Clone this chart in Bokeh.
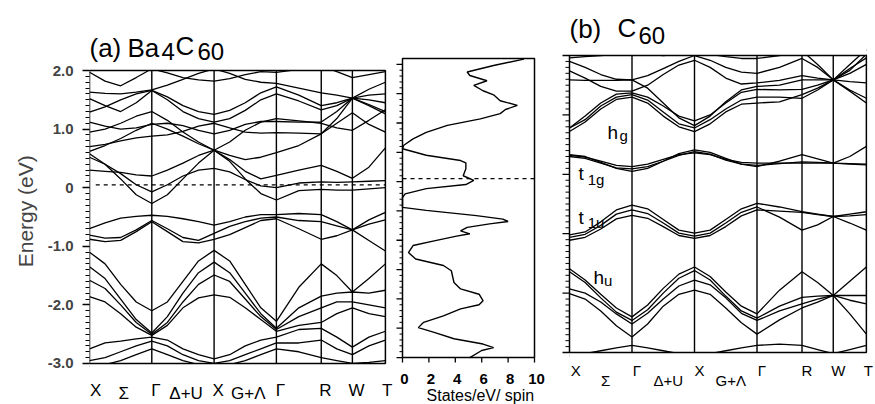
from bokeh.plotting import figure
from bokeh.layouts import row
from bokeh.models import FixedTicker, Label
from bokeh.embed import file_html
from bokeh.resources import INLINE

FONT = "Liberation Sans"

# ---------------- data ----------------
K_GRID = [0, 0.25, 0.5, 0.75, 1, 1.25, 1.5, 1.75, 2, 2.25, 2.5, 2.75, 3, 3.36, 3.72, 3.97, 4.22, 4.485, 4.75]
K_POINTS = [0, 1, 2, 3, 3.72, 4.22, 4.75]
K_POINT_LABELS = ["X", "Γ", "X", "Γ", "R", "W", "T"]
K_SEG_LABELS = ["Σ", "Δ+U", "G+Λ"]

ENERGY_TICKS = [-3, -2, -1, 0, 1, 2]
ENERGY_TICK_LABELS = ["-3.0", "-2.0", "-1.0", "0", "1.0", "2.0"]
DOS_TICKS = [0, 2, 4, 6, 8, 10]
DOS_TICK_LABELS = ["0", "2", "4", "6", "8", "10"]
DOS_E_TICKS = [-3, -2.5, -2, -1.5, -1, -0.5, 0, 0.5, 1, 1.5, 2]
DOS_E_RANGE = (-3.0, 2.1)
E_FERMI = 0.05

# Ba4C60 bands (eV) at K_GRID
BANDS_BA4C60 = [
    [1.97, 1.82, 1.74, 1.88, 2.03, 1.96, 1.88, 1.84, 1.82, 1.86, 1.93, 1.98, 1.97, 2.02, 2.08, 1.98, 1.88, 1.93, 1.98],
    [1.63, 1.61, 1.60, 1.63, 1.67, 1.75, 1.85, 1.95, 2.03, 1.95, 1.85, 1.80, 1.78, 1.70, 1.62, 1.58, 1.53, 1.68, 1.80],
    [1.52, 1.40, 1.30, 1.45, 1.66, 1.55, 1.40, 1.30, 1.25, 1.32, 1.45, 1.62, 1.72, 1.58, 1.40, 1.45, 1.53, 1.58, 1.60],
    [1.29, 1.38, 1.50, 1.60, 1.66, 1.50, 1.30, 1.18, 1.12, 1.18, 1.32, 1.50, 1.60, 1.48, 1.33, 1.40, 1.53, 1.50, 1.45],
    [1.12, 1.05, 1.00, 1.02, 1.08, 1.10, 1.06, 0.98, 0.92, 0.98, 1.08, 1.13, 1.13, 1.12, 1.12, 1.30, 1.53, 1.42, 1.30],
    [0.95, 1.00, 1.10, 1.22, 1.30, 1.15, 0.95, 0.78, 0.64, 0.78, 0.98, 1.12, 1.18, 1.14, 1.10, 1.02, 0.98, 1.15, 1.33],
    [0.70, 0.74, 0.80, 0.85, 0.88, 0.90, 0.96, 1.05, 1.10, 1.02, 0.95, 0.93, 0.94, 0.93, 0.92, 1.18, 1.53, 1.40, 1.26],
    [0.62, 0.72, 0.84, 0.98, 1.10, 1.00, 0.88, 0.75, 0.64, 0.55, 0.48, 0.52, 0.60, 0.72, 0.92, 1.10, 1.28, 1.08, 0.95],
    [0.58, 0.40, 0.15, -0.12, -0.27, -0.12, 0.15, 0.42, 0.64, 0.45, 0.15, -0.10, -0.21, -0.05, -0.03, -0.04, -0.04, -0.02, 0.00],
    [0.52, 0.40, 0.24, 0.05, -0.07, 0.05, 0.20, 0.30, 0.33, 0.27, 0.14, 0.03, 0.00, 0.08, 0.10, 0.09, 0.10, 0.11, 0.12],
    [0.30, 0.28, 0.26, 0.22, 0.20, 0.30, 0.42, 0.55, 0.64, 0.48, 0.28, 0.15, 0.21, 0.30, 0.38, 0.28, 0.16, 0.35, 0.68],
    [-0.70, -0.60, -0.52, -0.49, -0.47, -0.49, -0.53, -0.58, -0.64, -0.58, -0.50, -0.46, -0.46, -0.44, -0.46, -0.58, -0.72, -0.55, -0.42],
    [-0.81, -0.86, -0.85, -0.72, -0.56, -0.70, -0.85, -0.90, -0.78, -0.66, -0.58, -0.52, -0.50, -0.56, -0.58, -0.65, -0.72, -0.90, -1.08],
    [-0.88, -0.92, -0.90, -0.75, -0.58, -0.75, -0.92, -0.94, -0.88, -0.80, -0.68, -0.56, -0.53, -0.70, -0.88, -0.82, -0.72, -0.62, -0.55],
    [-1.10, -1.30, -1.65, -1.95, -2.10, -1.95, -1.60, -1.25, -1.07, -1.25, -1.65, -2.05, -2.28, -1.70, -1.30, -1.50, -1.78, -1.55, -1.30],
    [-1.35, -1.55, -1.90, -2.25, -2.48, -2.20, -1.80, -1.45, -1.27, -1.45, -1.80, -2.15, -2.40, -2.05, -1.85, -1.80, -1.78, -1.80, -1.75],
    [-1.58, -1.72, -2.00, -2.30, -2.50, -2.30, -1.95, -1.65, -1.49, -1.60, -1.90, -2.20, -2.42, -2.20, -2.05, -1.95, -1.95, -2.00, -2.05],
    [-1.86, -1.95, -2.15, -2.38, -2.52, -2.35, -2.05, -1.88, -1.83, -1.87, -2.05, -2.25, -2.45, -2.35, -2.30, -2.15, -2.05, -2.15, -2.20],
    [-2.75, -2.65, -2.62, -2.58, -2.55, -2.60, -2.75, -2.85, -2.92, -2.85, -2.70, -2.60, -2.55, -2.42, -2.40, -2.55, -2.72, -2.55, -2.45],
    [-2.95, -2.90, -2.80, -2.70, -2.62, -2.70, -2.85, -2.95, -3.00, -2.95, -2.85, -2.75, -2.65, -2.65, -2.60, -2.75, -2.85, -2.70, -2.60],
    [-3.05, -3.02, -2.95, -2.85, -2.75, -2.85, -2.95, -3.02, -3.05, -3.02, -2.95, -2.85, -2.75, -2.80, -2.90, -2.95, -3.00, -2.98, -2.95],
]

# Ba4C60 density of states
DOS_ENERGY = [2.09, 1.98, 1.87, 1.81, 1.72, 1.64, 1.55, 1.48, 1.38, 1.30, 1.23, 1.16, 1.07, 0.96, 0.84, 0.73,
              0.62, 0.56, 0.45, 0.36, 0.32, 0.22, 0.10, 0.02, -0.05, -0.12, -0.21, -0.27, -0.44, -0.49, -0.58,
              -0.64, -0.68, -0.72, -0.78, -0.84, -0.89, -0.93, -1.01, -1.09, -1.21, -1.32, -1.43, -1.52, -1.72,
              -1.83, -1.92, -2.03, -2.10, -2.17, -2.29, -2.40, -2.49, -2.57, -2.68, -2.77, -2.83, -2.88, -3.0]
DOS_STATES = [9.2, 6.9, 4.9, 5.1, 6.4, 5.4, 6.1, 6.9, 7.4, 8.7, 7.8, 7.4, 5.9, 3.4, 1.8, 0.8,
              0.1, 0.0, 1.8, 4.4, 4.8, 4.8, 4.6, 5.4, 4.8, 1.8, 0.2, 0.0, 0.0, 1.8, 5.6,
              7.6, 8.0, 6.6, 4.9, 4.4, 5.1, 4.1, 2.4, 0.8, 0.45, 1.0, 3.1, 3.7, 3.9,
              4.4, 5.8, 6.1, 5.8, 4.4, 3.1, 1.6, 1.2, 2.4, 3.9, 6.1, 6.9, 6.0, 5.1]

# C60 bands (eV) at K_GRID
BANDS_C60 = [
    # hg and above
    [0.78, 0.92, 1.15, 1.30, 1.34, 1.25, 1.05, 0.85, 0.78, 0.92, 1.10, 1.25, 1.30, 1.30, 1.28, 1.42, 1.59, 1.42, 1.28],
    [0.72, 0.88, 1.10, 1.26, 1.30, 1.20, 0.98, 0.80, 0.72, 0.85, 1.05, 1.18, 1.20, 1.22, 1.34, 1.45, 1.59, 1.40, 1.20],
    [0.78, 0.98, 1.20, 1.35, 1.37, 1.30, 1.15, 0.98, 0.90, 1.00, 1.20, 1.38, 1.43, 1.42, 1.43, 1.50, 1.59, 1.56, 1.54],
    [1.59, 1.58, 1.58, 1.58, 1.59, 1.45, 1.20, 0.95, 0.82, 0.98, 1.22, 1.42, 1.48, 1.50, 1.59, 1.59, 1.59, 1.70, 1.85],
    [1.74, 1.62, 1.48, 1.40, 1.40, 1.50, 1.68, 1.84, 1.92, 1.80, 1.62, 1.52, 1.54, 1.58, 1.66, 1.62, 1.59, 1.78, 1.96],
    [1.90, 1.80, 1.68, 1.60, 1.59, 1.66, 1.78, 1.90, 2.00, 1.92, 1.80, 1.72, 1.70, 1.80, 1.95, 1.80, 1.59, 1.75, 2.02],
    [1.96, 1.98, 2.00, 2.02, 2.03, 2.02, 2.00, 2.02, 2.05, 2.02, 1.98, 1.95, 1.95, 2.00, 2.08, 1.85, 1.59, 1.85, 2.10],
    # t1g
    [0.33, 0.30, 0.20, 0.10, 0.05, 0.10, 0.22, 0.35, 0.41, 0.37, 0.27, 0.17, 0.13, 0.22, 0.33, 0.26, 0.19, 0.30, 0.47],
    [0.30, 0.27, 0.19, 0.11, 0.09, 0.13, 0.22, 0.32, 0.38, 0.34, 0.24, 0.17, 0.15, 0.18, 0.21, 0.20, 0.19, 0.18, 0.17],
    [0.32, 0.29, 0.22, 0.15, 0.13, 0.17, 0.25, 0.33, 0.36, 0.33, 0.25, 0.20, 0.19, 0.19, 0.19, 0.19, 0.19, 0.17, 0.16],
    # t1u
    [-1.02, -0.97, -0.80, -0.60, -0.52, -0.58, -0.76, -0.94, -0.99, -0.94, -0.76, -0.58, -0.49, -0.55, -0.63, -0.67, -0.71, -0.67, -0.63],
    [-1.06, -1.01, -0.86, -0.67, -0.60, -0.66, -0.82, -0.99, -1.04, -0.99, -0.82, -0.64, -0.55, -0.72, -0.94, -0.85, -0.71, -0.82, -0.94],
    [-1.11, -1.06, -0.92, -0.75, -0.69, -0.74, -0.88, -1.03, -1.08, -1.03, -0.88, -0.70, -0.60, -0.62, -0.64, -0.68, -0.71, -0.70, -0.68],
    # hu
    [-1.59, -1.78, -2.02, -2.25, -2.40, -2.20, -1.92, -1.68, -1.56, -1.72, -1.98, -2.22, -2.35, -1.95, -1.64, -1.82, -2.04, -1.80, -1.56],
    [-1.64, -1.82, -2.08, -2.32, -2.46, -2.28, -2.00, -1.75, -1.62, -1.78, -2.05, -2.30, -2.42, -2.22, -2.07, -2.05, -2.04, -2.04, -2.04],
    [-1.93, -2.00, -2.15, -2.35, -2.52, -2.34, -2.10, -1.88, -1.78, -1.86, -2.08, -2.34, -2.46, -2.30, -2.18, -2.10, -2.04, -2.12, -2.18],
    [-2.01, -2.10, -2.30, -2.55, -2.74, -2.52, -2.22, -2.02, -1.95, -2.02, -2.25, -2.50, -2.69, -2.45, -2.25, -2.15, -2.04, -2.35, -2.69],
    [-3.05, -3.02, -2.97, -2.92, -2.88, -2.92, -2.97, -3.02, -3.05, -3.02, -2.97, -2.92, -2.88, -2.86, -2.88, -2.95, -3.02, -2.95, -2.88],
]
C60_BAND_LABELS = [("h", "g"), ("t", "1g"), ("t", "1u"), ("h", "u")]

LW = 1.3
E_LO, E_HI = ENERGY_TICKS[0], ENERGY_TICKS[-1]
K_LO, K_HI = K_POINTS[0], K_POINTS[-1]
H = 404
MINOR_E = [round(E_LO + 0.1 * i, 2) for i in range(51)]


def base_fig(width, x_range, y_range, bl, yaxis=True):
    # every frame fills the full height so that all text can live inside it
    p = figure(width=width, height=H, x_range=x_range, y_range=y_range,
               output_backend="svg", toolbar_location=None,
               min_border_left=bl, min_border_right=0, min_border_top=0, min_border_bottom=0)
    p.grid.visible = False
    p.outline_line_color = None
    p.background_fill_color = "white"
    p.border_fill_color = "white"
    p.xaxis.visible = False
    p.yaxis.visible = yaxis
    return p


def text(p, x, y, t, size, align="left", style="normal"):
    p.add_layout(Label(x=x, y=y, text=t, text_font=FONT, text_font_size=size, text_font_style=style,
                       text_align=align, text_baseline="alphabetic", text_color="black"))


def left_ticks(p, x_edge, px_per_unit, major, minor, major_len=7, minor_len=4):
    # outward tick marks on the left edge of a box, drawn as plain segments
    minor = [m for m in minor if m not in major]
    for ticks, length, w in ((major, major_len, 1.3), (minor, minor_len, 1.0)):
        p.segment(x0=[x_edge] * len(ticks), y0=ticks, x1=[x_edge - length / px_per_unit] * len(ticks), y1=ticks,
                  line_color="black", line_width=w)


def band_panel(p, bands, lab_y_main, lab_y_mid, lab_size, k_shift, seg_shift):
    p.multi_line(xs=[K_GRID] * len(bands), ys=bands, line_color="black", line_width=LW)
    # white masks hide the band ends that run past the box
    p.quad(left=[K_LO, K_LO], right=[K_HI, K_HI], bottom=[E_HI, E_LO - 0.2], top=[E_HI + 0.2, E_LO],
           fill_color="white", line_color=None)
    inner = K_POINTS[1:-1]
    p.segment(x0=inner, y0=[E_LO] * len(inner), x1=inner, y1=[E_HI] * len(inner),
              line_color="black", line_width=1.4)
    p.quad(left=[K_LO], right=[K_HI], bottom=[E_LO], top=[E_HI],
           fill_color=None, line_color="black", line_width=1.5)
    last = len(K_POINTS) - 1
    for i, (k, t) in enumerate(zip(K_POINTS, K_POINT_LABELS)):
        xk = k + k_shift
        if i == 0:
            xk = k + 0.1
        if i == last:
            xk = k + 0.03
        text(p, xk, lab_y_main, t, lab_size, "center")
    for i, t in enumerate(K_SEG_LABELS):
        xm = (K_POINTS[i] + K_POINTS[i + 1]) / 2 + seg_shift
        text(p, xm, lab_y_mid, t, lab_size, "center")


# ---------- (a) Ba4C60 bands ----------
pa = base_fig(395, (0, 4.912), (-3.700, 3.195), 89)
ya = pa.yaxis[0]
ya.ticker = FixedTicker(ticks=ENERGY_TICKS, minor_ticks=MINOR_E)
ya.axis_line_color = None
ya.major_tick_line_width = 1.3
ya.minor_tick_line_width = 1.0
ya.major_tick_out = 7
ya.major_tick_in = 0
ya.minor_tick_out = 4
ya.minor_tick_in = 0
ya.major_label_overrides = dict(zip(ENERGY_TICKS, ENERGY_TICK_LABELS))
ya.major_label_text_font = FONT
ya.major_label_text_font_style = "bold"
ya.major_label_text_font_size = "15px"
ya.major_label_standoff = 9
ya.axis_label = "Energy (eV)\u00a0\u00a0\u00a0"
ya.axis_label_text_font = FONT
ya.axis_label_text_font_style = "normal"
ya.axis_label_text_font_size = "21px"
ya.axis_label_standoff = 8
pa.segment(x0=[K_LO + 0.1], y0=[E_FERMI], x1=[K_HI], y1=[E_FERMI],
           line_color="black", line_width=1.2, line_dash="4 4")
band_panel(pa, BANDS_BA4C60, -3.46, -3.51, "17px", 0.065, 0.05)
text(pa, 0.0, 2.39, "(a)", "26px")
text(pa, 0.61, 2.39, "Ba", "26px")
text(pa, 1.156, 2.32, "4", "24px")
text(pa, 1.38, 2.42, "C", "26px")
text(pa, 1.734, 2.32, "60", "24px")

# ---------- DOS panel ----------
d_lo, d_hi = DOS_E_RANGE
pd_ = base_fig(154, (-0.530, 11.136), (-3.801, 3.089), 0, yaxis=False)
left_ticks(pd_, DOS_TICKS[0], 13.2, DOS_E_TICKS, [round(d_lo + 0.1 * i, 2) for i in range(51)], 6, 3)
pd_.line(x=DOS_STATES, y=DOS_ENERGY, line_color="black", line_width=1.4)
pd_.segment(x0=[DOS_TICKS[0]], y0=[E_FERMI], x1=[DOS_TICKS[-1]], y1=[E_FERMI],
            line_color="black", line_width=1.2, line_dash="4 4")
pd_.quad(left=[DOS_TICKS[0]], right=[DOS_TICKS[-1]], bottom=[d_lo], top=[d_hi],
         fill_color=None, line_color="black", line_width=1.5)
pd_.segment(x0=DOS_TICKS, y0=[d_lo] * len(DOS_TICKS), x1=DOS_TICKS, y1=[d_lo - 0.085] * len(DOS_TICKS),
            line_color="black", line_width=1.3)
for t, lab in zip(DOS_TICKS, DOS_TICK_LABELS):
    text(pd_, t + 0.15, -3.358, lab, "15px", "center", "bold")
text(pd_, 5.9, -3.64, "States/eV/ spin", "16px", "center")

# ---------- (b) C60 bands ----------
pb = base_fig(326, (-0.32, 4.896), (-3.875, 2.926), 0, yaxis=False)
left_ticks(pb, K_LO, 62.5, ENERGY_TICKS, MINOR_E)
band_panel(pb, BANDS_C60, -3.30, -3.47, "15px", 0.08, 0.08)
text(pb, 0.0, 2.44, "(b)", "26px")
text(pb, 0.768, 2.455, "C", "26px")
text(pb, 1.104, 2.337, "60", "24px")
band_label_pos = [(0.608, 0.70, 0.80, 0.66), (0.144, 0.013, 0.29, -0.08),
                  (0.144, -0.727, 0.29, -0.81), (0.384, -1.737, 0.55, -1.79)]
for (main, sub), (xm, ym, xs, ys) in zip(C60_BAND_LABELS, band_label_pos):
    text(pb, xm, ym, main, "19px")
    text(pb, xs, ys, sub, "15px")

layout = row(pa, pd_, pb)
open("out.html", "w").write(file_html(layout, INLINE))
